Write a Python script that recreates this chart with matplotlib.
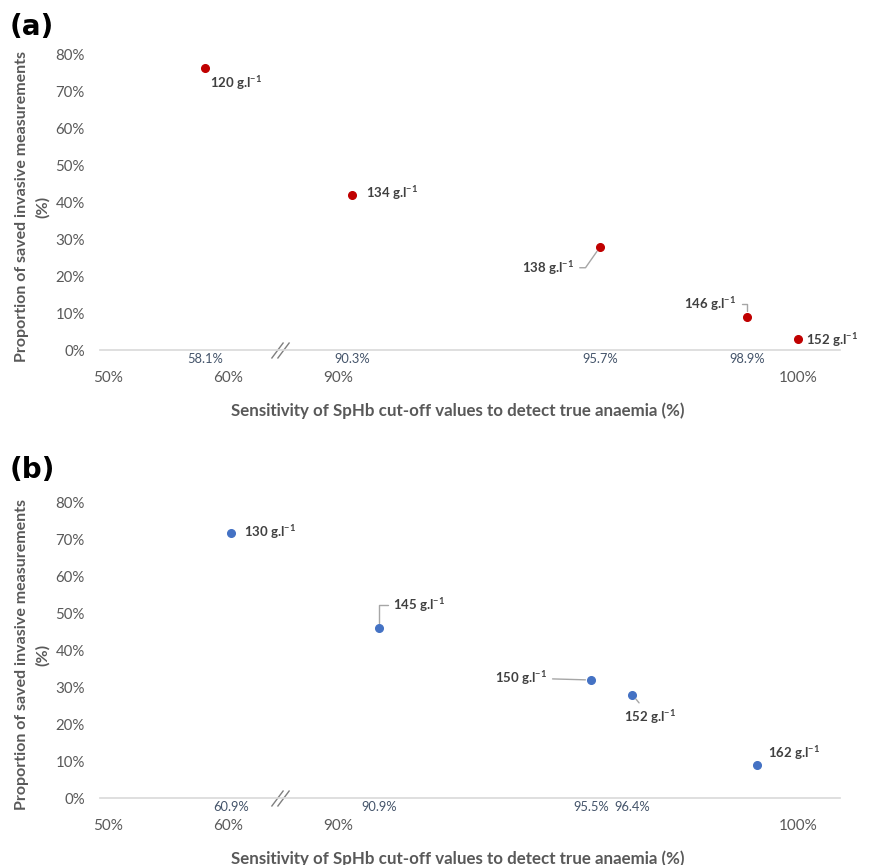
import numpy as np
import matplotlib
matplotlib.use("Agg")
import matplotlib.pyplot as plt
from matplotlib.path import Path

plt.rcParams['font.family'] = ['Lato', 'DejaVu Sans']
plt.rcParams['mathtext.fontset'] = 'custom'
plt.rcParams['mathtext.rm'] = 'Lato:bold'
plt.rcParams['mathtext.it'] = 'Lato:bold'
plt.rcParams['mathtext.bf'] = 'Lato:bold'

# ---- data ----
a_sens = [58.1, 90.3, 95.7, 98.9, 100.0]
a_prop = [76.5, 42.0, 28.0, 9.0, 3.0]
a_cut = [120, 134, 138, 146, 152]

b_sens = [60.9, 90.9, 95.5, 96.4, 99.1]
b_prop = [72.0, 46.0, 32.0, 28.0, 9.0]
b_cut = [130, 145, 150, 152, 162]

x_ticks = [50, 60, 90, 100]
x_ticklabels = ['50%', '60%', '90%', '100%']
y_ticks = [0, 10, 20, 30, 40, 50, 60, 70, 80]
y_ticklabels = [f'{v}%' for v in y_ticks]

show_value_label = [True, True, True, True, False]

# broken axis mapping (data -> screen units)
bp_data = [0, 50, 60, 90, 100, 200]
bp_scr = [108 - 50 * 12, 108, 228, 338, 798, 798 + 100 * 46]

def fwd(x):
    return np.interp(x, bp_data, bp_scr)

def inv(p):
    return np.interp(p, bp_scr, bp_data)

W, H = 894, 865
fig = plt.figure(figsize=(W / 100, H / 100), dpi=100)

GRAY = '#595959'
LBL = '#404040'
VAL = '#44546A'
LEADER = '#A6A6A6'

# annotation offsets in pixels, (dx, dy, ha, connection) per panel
a_ann = [(5, -15, 'left', None),
         (14, 2, 'left', None),
         (-26, -21, 'right', 'angle,angleA=0,angleB=55,rad=0'),
         (-11, 13, 'right', 'angle,angleA=0,angleB=90,rad=0'),
         (8, -1, 'left', None)]
b_ann = [(13, 0, 'left', None),
         (14, 23, 'left', 'angle,angleA=0,angleB=90,rad=0'),
         (-44, 2, 'right', 'arc3'),
         (18, -22, 'center', 'arc3'),
         (11, 12, 'left', None)]


def panel(bottom_px, sens, prop, cuts, color, anns, tag, tag_y, xlab_off):
    ax = fig.add_axes([100 / W, 1 - bottom_px / H, 740 / W, 295 / H])
    ax.set_xscale('function', functions=(fwd, inv))
    ax.set_xlim(inv(100), inv(840))
    ax.set_ylim(0, 80)
    for s in ['top', 'right', 'left']:
        ax.spines[s].set_visible(False)
    ax.spines['bottom'].set_color('#D9D9D9')
    ax.spines['bottom'].set_linewidth(1.2)
    ax.set_xticks(x_ticks)
    ax.set_xticklabels(x_ticklabels)
    ax.xaxis.set_minor_locator(matplotlib.ticker.NullLocator())
    ax.tick_params(axis='x', length=0, pad=15, labelsize=11, labelcolor=GRAY)
    ax.set_yticks(y_ticks)
    ax.set_yticklabels(y_ticklabels)
    ax.tick_params(axis='y', length=0, pad=11, labelsize=10.8, labelcolor=GRAY)

    ax.plot(sens, prop, 'o', color=color, markersize=5.5, clip_on=False, zorder=3)

    for x, y, c, (dx, dy, ha, conn) in zip(sens, prop, cuts, anns):
        kw = {}
        if conn is not None:
            kw['arrowprops'] = dict(arrowstyle='-', color=LEADER, lw=1,
                                    connectionstyle=conn, shrinkA=2, shrinkB=4)
        ax.annotate(f'{c} g.l$^{{-1}}$', xy=(x, y), xytext=(dx, dy),
                    textcoords='offset pixels', ha=ha, va='center',
                    fontsize=9.5, fontweight='bold', color=LBL, **kw)

    for x, show in zip(sens, show_value_label):
        if show:
            ax.annotate(f'{x:.1f}%', xy=(x, 0), xytext=(0, -9),
                        textcoords='offset pixels', ha='center', va='center',
                        fontsize=9.3, color=VAL)

    # axis break mark
    brk = Path([(-9, -8), (3, 8), (-3, -8), (9, 8)],
               [Path.MOVETO, Path.LINETO, Path.MOVETO, Path.LINETO])
    ax.plot([inv(280)], [0], marker=brk, markersize=13, markerfacecolor='none',
            markeredgecolor='#7F7F7F', markeredgewidth=1, clip_on=False)

    ax.set_ylabel('Proportion of saved invasive measurements\n(%)',
                  fontsize=11.5, fontweight='bold', color=GRAY, linespacing=1.55)
    ax.yaxis.set_label_coords(-50 / 740, 0.485)
    ax.set_xlabel('Sensitivity of SpHb cut-off values to detect true anaemia (%)',
                  fontsize=12.2, fontweight='bold', color=GRAY)
    ax.xaxis.set_label_coords(358 / 740, -xlab_off / 295)

    fig.text(10 / W, 1 - tag_y / H, tag, fontsize=20, fontweight='bold',
             family='DejaVu Sans', color='black', ha='left', va='center')
    return ax


panel(350, a_sens, a_prop, a_cut, '#C00000', a_ann, '(a)', 27, 52)
panel(798, b_sens, b_prop, b_cut, '#4472C4', b_ann, '(b)', 470, 52)

fig.savefig('out.png', dpi=100)
